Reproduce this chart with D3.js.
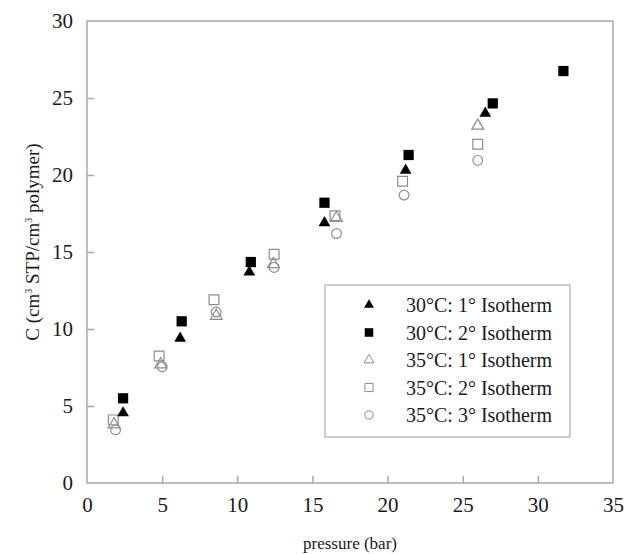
<!DOCTYPE html>
<html>
<head>
<meta charset="utf-8">
<script src="https://cdn.jsdelivr.net/npm/d3@7"></script>
<style>
  body { margin: 0; background: #fff; }
  svg text { font-family: "Liberation Serif", "Times New Roman", Times, serif !important; fill: #1a1a1a; }
</style>
</head>
<body>
<div id="chart"></div>
<script>
// series names, in legend order
const seriesNames = ["30°C: 1° Isotherm", "30°C: 2° Isotherm", "35°C: 1° Isotherm", "35°C: 2° Isotherm", "35°C: 3° Isotherm"];

// pressure (bar), concentration (cm3 STP/cm3 polymer)
const p30a = [2.4, 6.2, 10.8, 15.8, 21.2, 26.5];
const c30a = [4.55, 9.4, 13.7, 16.9, 20.3, 24.0];

const p30b = [2.4, 6.3, 10.9, 15.8, 21.4, 27.0, 31.7];
const c30b = [5.5, 10.5, 14.35, 18.2, 21.3, 24.65, 26.75];

const p35a = [1.8, 4.9, 8.6, 12.4, 16.6, 26.0];
const c35a = [3.8, 7.7, 10.85, 14.2, 17.2, 23.2];

const p35b = [1.75, 4.8, 8.45, 12.45, 16.5, 21.0, 26.0];
const c35b = [4.1, 8.25, 11.9, 14.85, 17.35, 19.6, 22.0];

const p35c = [1.9, 5.0, 8.6, 12.45, 16.6, 21.1, 26.0];
const c35c = [3.45, 7.55, 11.1, 14.0, 16.2, 18.7, 20.95];

const xTicks = [0, 5, 10, 15, 20, 25, 30, 35];
const yTicks = [0, 5, 10, 15, 20, 25, 30];

const width = 624, height = 554;
const margin = {top: 21, right: 11, bottom: 71, left: 87};
const serif = "'Liberation Serif', 'Times New Roman', Times, serif";

const svg = d3.select("#chart").append("svg")
    .attr("width", width)
    .attr("height", height)
    .attr("font-family", serif);

const x = d3.scaleLinear().domain([0, 35]).range([margin.left, width - margin.right]);
const y = d3.scaleLinear().domain([0, 30]).range([height - margin.bottom, margin.top]);

const frameColor = "#a8a8a8";
const grey = "#8c8c8c";

// frame
svg.append("rect")
    .attr("x", x(0)).attr("y", y(30))
    .attr("width", x(35) - x(0)).attr("height", y(0) - y(30))
    .attr("fill", "none").attr("stroke", frameColor).attr("stroke-width", 1.5);

// axes with inward ticks
const xAxis = svg.append("g")
    .attr("transform", `translate(0,${y(0)})`)
    .call(d3.axisBottom(x).tickValues(xTicks).tickSize(-7).tickPadding(14).tickFormat(d3.format("d")));
const yAxis = svg.append("g")
    .attr("transform", `translate(${x(0)},0)`)
    .call(d3.axisLeft(y).tickValues(yTicks).tickSize(-7).tickPadding(14).tickFormat(d3.format("d")));

[xAxis, yAxis].forEach(a => {
    a.attr("font-family", serif);
    a.select(".domain").remove();
    a.selectAll(".tick line").attr("stroke", frameColor).attr("stroke-width", 1.5);
    a.selectAll(".tick text").style("font-size", "21px").style("font-family", serif).attr("fill", "#1a1a1a");
});
xAxis.selectAll(".tick line").filter(d => d === 0 || d === 35).remove();
yAxis.selectAll(".tick line").filter(d => d === 0 || d === 30).remove();

// axis titles
svg.append("text")
    .attr("x", (x(0) + x(35)) / 2)
    .attr("y", 549)
    .attr("text-anchor", "middle")
    .style("font-size", "17px")
    .style("font-family", serif)
    .text("pressure (bar)");

const yt = svg.append("text")
    .attr("transform", `translate(39,242) rotate(-90)`)
    .attr("text-anchor", "middle")
    .style("font-size", "19px")
    .style("font-family", serif);
yt.append("tspan").text("C (cm");
yt.append("tspan").attr("dy", -7).style("font-size", "10px").text("3");
yt.append("tspan").attr("dy", 7).text(" STP/cm");
yt.append("tspan").attr("dy", -7).style("font-size", "10px").text("3");
yt.append("tspan").attr("dy", 7).text(" polymer)");

// symbol styles per series
const styles = [
    {type: d3.symbolTriangle, size: 60, fill: "#000", stroke: "none"},
    {type: d3.symbolSquare, size: 105, fill: "#000", stroke: "none"},
    {type: d3.symbolTriangle, size: 60, fill: "none", stroke: grey},
    {type: d3.symbolSquare, size: 95, fill: "none", stroke: grey},
    {type: d3.symbolCircle, size: 75, fill: "none", stroke: grey}
];

const series = [
    {p: p30a, c: c30a},
    {p: p30b, c: c30b},
    {p: p35a, c: c35a},
    {p: p35b, c: c35b},
    {p: p35c, c: c35c}
];

// draw open symbols first, filled on top
[4, 3, 2, 0, 1].forEach(i => {
    const s = styles[i];
    svg.append("g").selectAll("path")
        .data(series[i].p.map((pv, j) => [pv, series[i].c[j]]))
        .join("path")
        .attr("transform", d => `translate(${x(d[0])},${y(d[1])})`)
        .attr("d", d3.symbol().type(s.type).size(s.size))
        .attr("fill", s.fill)
        .attr("stroke", s.stroke)
        .attr("stroke-width", 1.2);
});

// legend
const legend = svg.append("g").attr("transform", "translate(325,285)");
legend.append("rect")
    .attr("width", 245).attr("height", 152)
    .attr("fill", "#fff").attr("stroke", "#bdbdbd").attr("stroke-width", 1.5);

const items = legend.selectAll(".legend-item")
    .data(seriesNames)
    .join("g")
    .attr("class", "legend-item")
    .attr("transform", (d, i) => `translate(0,${20 + i * 27.5})`);

items.append("path")
    .attr("transform", "translate(44,0)")
    .attr("d", (d, i) => d3.symbol().type(styles[i].type).size(styles[i].size * 0.7)())
    .attr("fill", (d, i) => styles[i].fill)
    .attr("stroke", (d, i) => styles[i].stroke)
    .attr("stroke-width", 1);

items.append("text")
    .attr("x", 81)
    .attr("y", 7)
    .style("font-size", "20px")
    .style("font-family", serif)
    .text(d => d);
</script>
</body>
</html>
